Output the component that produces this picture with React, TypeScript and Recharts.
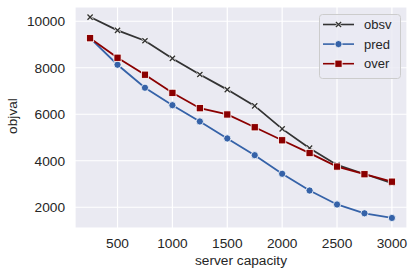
import React from 'react';
import { LineChart, Line, XAxis, YAxis, CartesianGrid, Legend } from 'recharts';

const capacity = [250, 500, 750, 1000, 1250, 1500, 1750, 2000, 2250, 2500, 2750, 3000];
const obsv = [10180, 9610, 9160, 8400, 7710, 7060, 6360, 5370, 4540, 3820, 3430, 3040];
const pred = [9270, 8130, 7140, 6390, 5690, 4960, 4240, 3440, 2720, 2120, 1740, 1540];
const over = [9270, 8430, 7700, 6920, 6260, 5990, 5440, 4880, 4330, 3750, 3420, 3100];
const xTicks = [500, 1000, 1500, 2000, 2500, 3000];
const yTicks = [2000, 4000, 6000, 8000, 10000];
const seriesNames = ['obsv', 'pred', 'over'];

const data = capacity.map((c, i) => ({ c, obsv: obsv[i], pred: pred[i], over: over[i] }));

const C_OBSV = '#333333';
const C_PRED = '#3562a8';
const C_OVER = '#8b0000';
const FONT = '"Liberation Sans", Arial, sans-serif';
const TXT = '#262626';

const XDot = (props: any) => {
  const { cx, cy } = props;
  if (cx == null || cy == null) return null;
  const s = 2.6;
  return (
    <g>
      <path d={`M${cx - s},${cy - s}L${cx + s},${cy + s}M${cx - s},${cy + s}L${cx + s},${cy - s}`} stroke="#ffffff" strokeWidth={2.6} />
      <path d={`M${cx - s},${cy - s}L${cx + s},${cy + s}M${cx - s},${cy + s}L${cx + s},${cy - s}`} stroke={C_OBSV} strokeWidth={1.4} />
    </g>
  );
};
const CircleDot = (props: any) => {
  const { cx, cy } = props;
  if (cx == null || cy == null) return null;
  return <circle cx={cx} cy={cy} r={3.6} fill={C_PRED} stroke="#ffffff" strokeWidth={0.8} />;
};
const SquareDot = (props: any) => {
  const { cx, cy } = props;
  if (cx == null || cy == null) return null;
  return <rect x={cx - 3.6} y={cy - 3.6} width={7.2} height={7.2} fill={C_OVER} stroke="#ffffff" strokeWidth={0.8} />;
};

const colors = [C_OBSV, C_PRED, C_OVER];

const renderLegend = () => (
  <svg width={82} height={65} style={{ display: 'block' }}>
    <rect x={0.5} y={0.5} width={81} height={64} rx={3} fill="#eaeaf2" fillOpacity={0.8} stroke="#cccccc" strokeWidth={1} />
    {seriesNames.map((n, i) => {
      const y = 10.5 + i * 19.6;
      const x0 = 4, x1 = 35, xm = 19.5;
      return (
        <g key={n}>
          <line x1={x0} y1={y} x2={x1} y2={y} stroke={colors[i]} strokeWidth={1.6} />
          {i === 0 && <XDot cx={xm} cy={y} />}
          {i === 1 && <CircleDot cx={xm} cy={y} />}
          {i === 2 && <SquareDot cx={xm} cy={y} />}
          <text x={45} y={y} dy="0.36em" fontSize={13} fontFamily={FONT} fill={TXT}>{n}</text>
        </g>
      );
    })}
  </svg>
);

const YLabel = () => (
  <text x={17} y={116} transform="rotate(-90, 17, 116)" textAnchor="middle" fontSize={13.7} fontFamily={FONT} fill={TXT}>objval</text>
);

export default function App() {
  return (
    <div style={{ position: 'absolute', left: 0, top: 0, width: 415, height: 276, background: '#ffffff' }}>
      <LineChart width={415} height={276} data={data} margin={{ top: 7, right: 8, bottom: 0, left: 0 }}>
        <CartesianGrid fill="#eaeaf2" stroke="#ffffff" strokeWidth={1.2} />
        <XAxis
          dataKey="c"
          type="number"
          domain={[112.5, 3137.5]}
          ticks={xTicks}
          allowDataOverflow
          axisLine={false}
          tickLine={false}
          tickSize={0}
          tickMargin={10}
          height={48}
          tick={{ fontSize: 13.7, fontFamily: FONT, fill: TXT }}
          label={{ value: 'server capacity', position: 'insideBottom', offset: 11, fontSize: 13.7, fontFamily: FONT, fill: TXT }}
        />
        <YAxis
          type="number"
          domain={[1108, 10612]}
          ticks={yTicks}
          allowDataOverflow
          axisLine={false}
          tickLine={false}
          tickSize={0}
          tickMargin={10}
          width={75}
          tick={{ fontSize: 13.7, fontFamily: FONT, fill: TXT }}
          label={<YLabel />}
        />
        <Line dataKey="obsv" stroke={C_OBSV} strokeWidth={1.8} dot={<XDot />} activeDot={false} isAnimationActive={false} />
        <Line dataKey="pred" stroke={C_PRED} strokeWidth={1.8} dot={<CircleDot />} activeDot={false} isAnimationActive={false} />
        <Line dataKey="over" stroke={C_OVER} strokeWidth={1.8} dot={<SquareDot />} activeDot={false} isAnimationActive={false} />
        <Legend
          layout="vertical"
          align="center"
          verticalAlign="middle"
          content={renderLegend}
          wrapperStyle={{ left: 319, top: 14, width: 82, height: 65 }}
        />
      </LineChart>
    </div>
  );
}
